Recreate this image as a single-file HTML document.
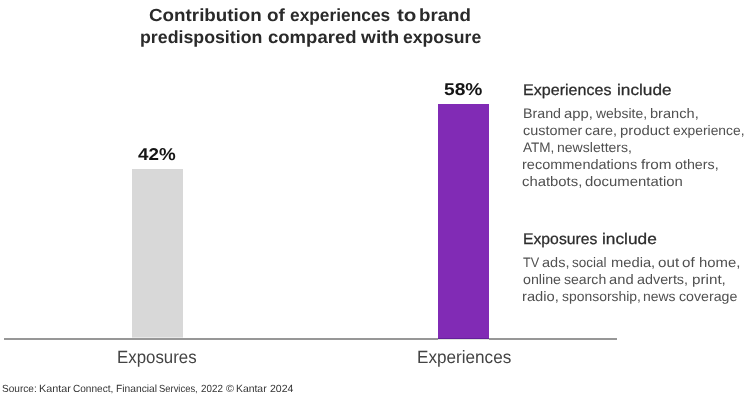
<!DOCTYPE html>
<html><head><meta charset="utf-8">
<style>
html,body{margin:0;padding:0;background:#fff;}
body{width:750px;height:400px;position:relative;overflow:hidden;font-family:"Liberation Sans",sans-serif;color:#2b2b2b;}
#w{position:absolute;left:0;top:0;width:750px;height:400px;will-change:transform;background:#fff;}
.t{position:absolute;white-space:nowrap;line-height:1;text-rendering:geometricPrecision;transform-origin:0 0;}
.title{font-weight:bold;font-size:17.5px;color:#2a2a2a;}
.val{font-weight:bold;font-size:17.2px;color:#151515;}
.lab{font-size:17.8px;color:#444;}
.h{font-size:15.4px;color:#2b2b2b;-webkit-text-stroke:0.25px #2b2b2b;}
.b{font-size:13.7px;color:#505050;}
.src{font-size:10.4px;color:#333;}
.bar{position:absolute;}

</style></head><body><div id="w">
<div class="bar" style="left:4px;top:338px;width:612.5px;height:2px;background:#979797;"></div>
<div class="bar" style="left:132px;top:169px;width:51px;height:168px;background:#d8d8d8;"></div>
<div class="bar" style="left:438px;top:104px;width:51px;height:234px;background:#812bb5;"></div>
<div class="bar" style="left:438px;top:338px;width:51px;height:1px;background:#63209a;"></div>
<div class="bar" style="left:438px;top:339px;width:51px;height:1px;background:#dfe4dc;"></div>
<div class="bar" style="left:132px;top:337px;width:51px;height:1px;background:#e8e8e8;"></div>

<div class="t title" id="t1a" style="left:149.39px;top:7px;transform:scaleX(1.0747);">Contribution</div>
<div class="t title" id="t1b" style="left:266.71px;top:7px;transform:scaleX(1.0793);">of</div>
<div class="t title" id="t1c" style="left:289.62px;top:7px;transform:scaleX(0.9902);">experiences</div>
<div class="t title" id="t1d" style="left:396.84px;top:7px;transform:scaleX(1.1769);">to</div>
<div class="t title" id="t1e" style="left:419.22px;top:7px;transform:scaleX(1.0690);">brand</div>
<div class="t title" id="t2a" style="left:139.92px;top:29px;transform:scaleX(1.0148);">predisposition</div>
<div class="t title" id="t2b" style="left:267.83px;top:29px;transform:scaleX(1.0581);">compared</div>
<div class="t title" id="t2c" style="left:360.84px;top:29px;transform:scaleX(1.0948);">with</div>
<div class="t title" id="t2d" style="left:402.97px;top:29px;transform:scaleX(1.0049);">exposure</div>
<div class="t val" id="v1a" style="left:138.25px;top:146px;transform:scaleX(1.0935);">42%</div>
<div class="t val" id="v2a" style="left:443.96px;top:81px;transform:scaleX(1.1169);">58%</div>
<div class="t lab" id="l1a" style="left:117.24px;top:349px;transform:scaleX(0.9476);">Exposures</div>
<div class="t lab" id="l2a" style="left:417.29px;top:349px;transform:scaleX(0.9628);">Experiences</div>
<div class="t h" id="h1a" style="left:522.94px;top:83px;transform:scaleX(1.0443);">Experiences</div>
<div class="t h" id="h1b" style="left:616.87px;top:83px;transform:scaleX(1.1195);">include</div>
<div class="t b" id="b1a" style="left:523.06px;top:107px;transform:scaleX(1.0412);">Brand</div>
<div class="t b" id="b1b" style="left:564.03px;top:107px;transform:scaleX(1.0840);">app,</div>
<div class="t b" id="b1c" style="left:595.98px;top:107px;transform:scaleX(1.0164);">website,</div>
<div class="t b" id="b1d" style="left:650.25px;top:107px;transform:scaleX(1.0667);">branch,</div>
<div class="t b" id="b2a" style="left:523.08px;top:124px;transform:scaleX(1.0536);">customer</div>
<div class="t b" id="b2b" style="left:585.32px;top:124px;transform:scaleX(1.0488);">care,</div>
<div class="t b" id="b2c" style="left:619.93px;top:124px;transform:scaleX(1.0853);">product</div>
<div class="t b" id="b2d" style="left:673.32px;top:124px;transform:scaleX(1.0107);">experience,</div>
<div class="t b" id="b3a" style="left:522.83px;top:141px;transform:scaleX(0.9905);">ATM,</div>
<div class="t b" id="b3b" style="left:556.54px;top:141px;transform:scaleX(1.0262);">newsletters,</div>
<div class="t b" id="b4a" style="left:522.40px;top:158px;transform:scaleX(1.0585);">recommendations</div>
<div class="t b" id="b4b" style="left:640.81px;top:158px;transform:scaleX(1.1185);">from</div>
<div class="t b" id="b4c" style="left:675.22px;top:158px;transform:scaleX(1.0444);">others,</div>
<div class="t b" id="b5a" style="left:522.24px;top:175px;transform:scaleX(1.0847);">chatbots,</div>
<div class="t b" id="b5b" style="left:585.18px;top:175px;transform:scaleX(1.0888);">documentation</div>
<div class="t h" id="h2a" style="left:522.96px;top:232px;transform:scaleX(1.0228);">Exposures</div>
<div class="t h" id="h2b" style="left:602.12px;top:232px;transform:scaleX(1.1244);">include</div>
<div class="t b" id="b6a" style="left:523.41px;top:256px;transform:scaleX(0.9271);">TV</div>
<div class="t b" id="b6b" style="left:541.85px;top:256px;transform:scaleX(1.0614);">ads,</div>
<div class="t b" id="b6c" style="left:571.92px;top:256px;transform:scaleX(0.9869);">social</div>
<div class="t b" id="b6d" style="left:610.91px;top:256px;transform:scaleX(1.0762);">media,</div>
<div class="t b" id="b6e" style="left:657.65px;top:256px;transform:scaleX(1.1094);">out</div>
<div class="t b" id="b6f" style="left:682.48px;top:256px;transform:scaleX(1.1085);">of</div>
<div class="t b" id="b6g" style="left:698.89px;top:256px;transform:scaleX(1.0875);">home,</div>
<div class="t b" id="b7a" style="left:522.97px;top:273px;transform:scaleX(1.0394);">online</div>
<div class="t b" id="b7b" style="left:563.90px;top:273px;transform:scaleX(1.0274);">search</div>
<div class="t b" id="b7c" style="left:609.16px;top:273px;transform:scaleX(1.0756);">and</div>
<div class="t b" id="b7d" style="left:637.48px;top:273px;transform:scaleX(1.0479);">adverts,</div>
<div class="t b" id="b7e" style="left:691.66px;top:273px;transform:scaleX(1.1126);">print,</div>
<div class="t b" id="b8a" style="left:522.06px;top:290px;transform:scaleX(1.0766);">radio,</div>
<div class="t b" id="b8b" style="left:561.57px;top:290px;transform:scaleX(1.0170);">sponsorship,</div>
<div class="t b" id="b8c" style="left:643.46px;top:290px;transform:scaleX(1.0183);">news</div>
<div class="t b" id="b8d" style="left:679.34px;top:290px;transform:scaleX(1.0359);">coverage</div>
<div class="t src" id="s1a" style="left:2.38px;top:385px;transform:scaleX(0.9683);">Source:</div>
<div class="t src" id="s1b" style="left:38.73px;top:385px;transform:scaleX(1.0385);">Kantar</div>
<div class="t src" id="s1c" style="left:72.83px;top:385px;transform:scaleX(0.9686);">Connect,</div>
<div class="t src" id="s1d" style="left:115.71px;top:385px;transform:scaleX(0.9860);">Financial</div>
<div class="t src" id="s1e" style="left:159.11px;top:385px;transform:scaleX(0.9065);">Services,</div>
<div class="t src" id="s1f" style="left:200.66px;top:385px;transform:scaleX(0.9452);">2022</div>
<div class="t src" id="s1g" style="left:226.40px;top:385px;transform:scaleX(1.0400);">©</div>
<div class="t src" id="s1h" style="left:236.28px;top:385px;transform:scaleX(0.9994);">Kantar</div>
<div class="t src" id="s1i" style="left:269.57px;top:385px;transform:scaleX(1.0132);">2024</div>
</div></body></html>
